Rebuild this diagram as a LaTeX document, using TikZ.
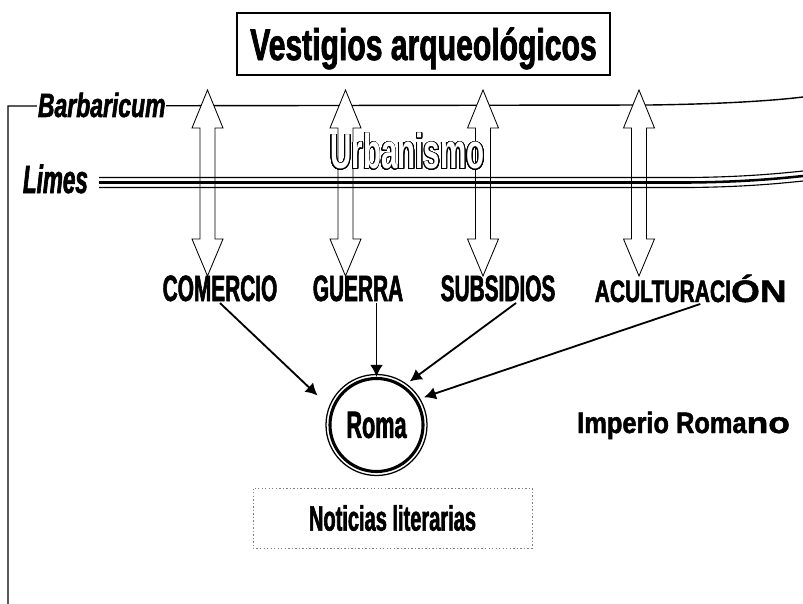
\documentclass[tikz,border=0pt]{standalone}
\usepackage{fontspec}
\usepackage{tikz}
\usepackage[copies]{contour}
\usetikzlibrary{arrows.meta}
\newfontfamily\labelfont[FakeStretch=0.57,FakeBold=1.6]{Liberation Sans}
\newfontfamily\titlefont[FakeStretch=0.68,FakeBold=1.6]{Liberation Sans}
\newfontfamily\romanofont[FakeStretch=0.86,FakeBold=1.6]{Liberation Sans}
\newfontfamily\widefont[FakeStretch=1.2,FakeBold=1.6]{Liberation Sans}
\newfontfamily\outlinefont[FakeStretch=0.6]{Liberation Sans}
\contourlength{0.6pt}
\contournumber{32}
\tikzset{lbl/.style={anchor=base,inner sep=1pt,
		font=\fontsize{26}{28}\selectfont\labelfont\bfseries},
	side/.style={anchor=base west,inner sep=0.5pt,fill=white},
	titlebox/.style={draw,line width=1.4pt,minimum width=9.325cm,minimum height=1.55cm,
		text height=0.8cm,text depth=0cm,font=\fontsize{31.5}{33}\selectfont\titlefont\bfseries},
	romacirc/.style={circle,draw,line width=2.2pt,minimum size=2.325cm,inner sep=0pt,
		font=\fontsize{27}{29}\selectfont\labelfont\bfseries},
	notbox/.style={draw=gray,line width=0.6pt,dash pattern=on 1pt off 1.5pt,
		minimum width=6.975cm,minimum height=1.5cm,
		font=\fontsize{25}{27}\selectfont\labelfont\bfseries},
	dblarr/.style={line width=0.6pt,line join=miter}}

\begin{document}
\begin{tikzpicture}[x=0.025cm,y=-0.025cm]
	\useasboundingbox (0,0) rectangle (803,604);
	% borders
	\draw[line width=1pt] (8,604) -- (8,106) -- (650,105) .. controls (720,104) and (770,101) .. (803,97);
	\foreach \o/\w in {0/0.8pt,5/1.8pt,10/0.8pt}
		\draw[line width=\w] (99,177.5+\o) -- (690,177.5+\o) .. controls (740,177+\o) and (775,174+\o) .. (803,171+\o);
	\node[side,font=\fontsize{24}{26}\selectfont\titlefont\bfseries\itshape] (barb) at (37,117) {Barbaricum};
	\node[side,font=\fontsize{28}{30}\selectfont\labelfont\bfseries\itshape] (limes) at (22,193) {Limes};
	% double arrows
	\foreach \ax in {207.5,345.5,483,639} {
		\fill[white] (\ax,90) -- (\ax+15.5,128) -- (\ax-15.5,128) -- cycle;
		\fill[white] (\ax,276) -- (\ax+15.5,239) -- (\ax-15.5,239) -- cycle;
		\draw[dblarr] (\ax,90) -- (\ax+15.5,128) -- (\ax+7.5,128) -- (\ax+7.5,239) -- (\ax+15.5,239)
			-- (\ax,276) -- (\ax-15.5,239) -- (\ax-7.5,239) -- (\ax-7.5,128) -- (\ax-15.5,128) -- cycle;
	}
	\node[anchor=base west,inner sep=0pt,text=white,
		font=\fontsize{35}{37}\selectfont\outlinefont\bfseries] (urb) at (330,169) {\contour{black}{Urbanismo}};
	\node[titlebox] (title) at (423.5,44) {Vestigios arqueológicos};
	\begin{scope}[every node/.style={lbl}]
		\node (com) at (220,301) {COMERCIO};
		\node (gue) at (358,301) {GUERRA};
		\node (sub) at (498,301) {SUBSIDIOS};
		\node[anchor=base west,font=\fontsize{22}{24}\selectfont\titlefont\bfseries] (acu) at (593,302) {ACULTURACI{\widefont ÓN}};
		\node[anchor=base west,inner sep=0pt,font=\fontsize{21}{23}\selectfont\romanofont\bfseries] (imp) at (577,433) {Imperio Roma{\widefont no}};
	\end{scope}
	\node[romacirc] (roma) at (376.5,425) {Roma};
	\draw[line width=0.9pt] (roma.center) circle[radius=50.5];
	\node[notbox] (not) at (392.5,518) {Noticias literarias};
	\begin{scope}[every edge/.style={draw,line width=1.3pt,-{Latex[length=8.5pt,width=9pt]}}]
		\path (com.south) edge[shorten >=13.5pt] (roma.160);
		\path (gue.south -| roma.north) edge (roma.north);
		\path ([xshift=0.45cm]sub.south) edge[shorten >=5pt] (roma.55);
		\path ([xshift=0.24cm]acu.south) edge[shorten >=5pt] (roma.32);
	\end{scope}
\end{tikzpicture}
\end{document}
